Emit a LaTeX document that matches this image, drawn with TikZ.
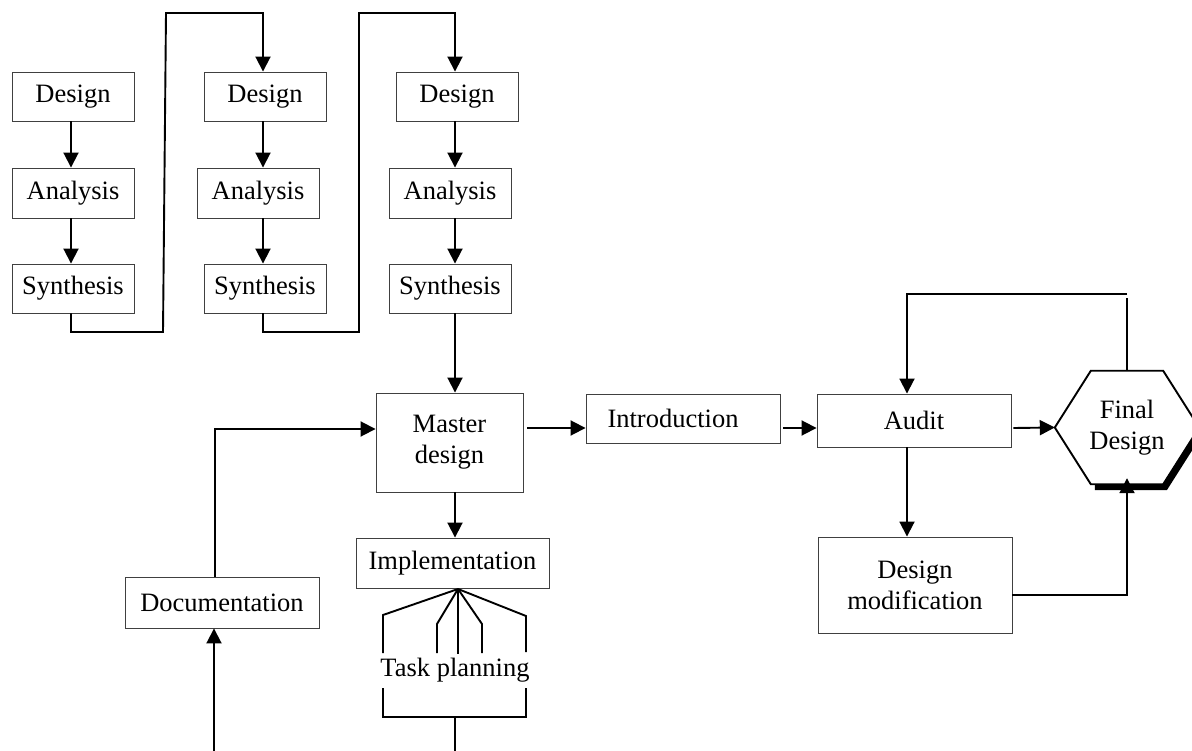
\documentclass[tikz,border=0pt]{standalone}
\usepackage{fontspec}
\setmainfont{Liberation Serif}
\usetikzlibrary{arrows.meta,calc}
\begin{document}
\begin{tikzpicture}[x=1pt,y=-1pt,
  txt/.style={font=\fontsize{26.5}{31}\selectfont, align=center},
  box/.style={txt, draw=black!75, line width=0.9pt, inner sep=0pt},
  link/.style={line width=1.9pt, line join=miter},
  arr/.style={link, -{Triangle[length=15pt,width=15pt]}},
]
\fill[white] (0,0) rectangle (1192,751);
\useasboundingbox (0,0) rectangle (1192,751);

% column guides for the vertical arrows
\coordinate (c1) at (71,0);
\coordinate (c2) at (263,0);
\coordinate (c3) at (455,0);

% three design iterations
\node[box, minimum width=122pt, minimum height=49pt] (d1) at (73,96.5) {Design};
\node[box, minimum width=122pt, minimum height=50pt] (a1) at (73,193) {Analysis};
\node[box, minimum width=122pt, minimum height=49pt] (s1) at (73,288.5) {Synthesis};

\node[box, minimum width=122pt, minimum height=49pt] (d2) at (265,96.5) {Design};
\node[box, minimum width=122pt, minimum height=50pt] (a2) at (258,193) {Analysis};
\node[box, minimum width=122pt, minimum height=49pt] (s2) at (265,288.5) {Synthesis};

\node[box, minimum width=122pt, minimum height=49pt] (d3) at (457,96.5) {Design};
\node[box, minimum width=122pt, minimum height=50pt] (a3) at (450,193) {Analysis};
\node[box, minimum width=122pt, minimum height=49pt] (s3) at (450,288.5) {Synthesis};

% main flow
\node[box, minimum width=147pt, minimum height=99pt] (m) at (449.5,442.5) {Master\\design};
\node[box, minimum width=194pt, minimum height=49pt] (i) at (683,418.5) {\makebox[0pt]{Introduction\hspace*{20pt}}};
\node[box, minimum width=194pt, minimum height=53pt] (au) at (914,420.5) {Audit};
\node[box, minimum width=194pt, minimum height=96pt] (dm) at (915,585) {Design\\modification};
\node[txt, minimum width=144pt, minimum height=113pt, inner sep=0pt] (fd) at (1127,427.5) {Final\\Design};
\node[box, minimum width=193pt, minimum height=50pt] (im) at (452.5,563) {Implementation};
\node[box, minimum width=194pt, minimum height=51pt] (doc) at (222,602.5) {Documentation};
\node[txt, inner sep=0pt] (tp) at (455,670) {Task planning};

% hexagon with its drop shadow
\draw[line width=6pt, line join=miter]
  ($(fd.east)+(2,3)$) -- ($(fd.south east)+(-34,3)$) -- ($(fd.south west)+(40,3)$);
\draw[line width=1.9pt, line join=miter]
  (fd.west) -- ($(fd.north west)+(36,0)$) -- ($(fd.north east)+(-36,0)$) -- (fd.east)
  -- ($(fd.south east)+(-36,0)$) -- ($(fd.south west)+(36,0)$) -- cycle;

% arrows inside each iteration
\draw[arr] (d1.south -| c1) -- (a1.north -| c1);
\draw[arr] (a1.south -| c1) -- (s1.north -| c1);
\draw[arr] (d2.south -| c2) -- (a2.north -| c2);
\draw[arr] (a2.south -| c2) -- (s2.north -| c2);
\draw[arr] (d3.south -| c3) -- (a3.north -| c3);
\draw[arr] (a3.south -| c3) -- (s3.north -| c3);

% hand-over from one iteration to the next
\coordinate (j1) at (163,332);
\coordinate (t1) at (166,13);
\coordinate (j2) at (359,332);
\coordinate (t2) at (359,13);
\draw[arr] (s1.south -| c1) |- (j1) -- (t1) -| (d2.north -| c2);
\draw[arr] (s2.south -| c2) |- (j2) -- (t2) -| (d3.north -| c3);
\draw[arr] (s3.south -| c3) -- (m.north -| c3);

% horizontal chain
\coordinate (r) at (0,428);
\draw[arr] ([xshift=4pt]m.east |- r) -- (i.west |- r);
\draw[arr] ([xshift=3pt]i.east |- r) -- (au.west |- r);
\draw[arr] ([xshift=2pt]au.east |- r) -- (fd.west);

% audit loop
\coordinate (top) at (0,294);
\draw[link] (fd.north) -- ([yshift=-4pt]fd.north |- top);
\draw[arr] (fd.north |- top) -| ([xshift=-7pt]au.north);
\draw[arr] ([xshift=-7pt]au.south) -- ([xshift=-7pt]au.south |- dm.north);
\coordinate (r2) at (0,595);
\draw[arr] (dm.east |- r2) -| ([yshift=6pt]fd.south);

% documentation feeding the master design
\coordinate (docin) at (214,751);
\draw[arr] (docin) -- (doc.south -| docin);
\coordinate (r3) at (0,429);
\draw[arr] ([xshift=-7pt]doc.north) |- (m.west |- r3);

% implementation and task planning
\draw[arr] (m.south -| c3) -- (im.north -| c3);
\coordinate (fan) at (458,589);
\coordinate (f1) at (383,615);
\coordinate (f2) at (437,624);
\coordinate (f4) at (482,624);
\coordinate (f5) at (526,616);
\draw[link] (fan) -- (f1) -- (f1 |- 0,653);
\draw[link] (fan) -- (f2) -- (f2 |- 0,653);
\draw[link] (fan) -- (fan |- 0,654);
\draw[link] (fan) -- (f4) -- (f4 |- 0,653);
\draw[link] (fan) -- (f5) -- (f5 |- 0,652);
\coordinate (b1) at (383,688);
\coordinate (b2) at (526,688);
\coordinate (bm) at (455,717);
\draw[link] (b1) |- (bm) -| (b2);
\draw[link] (bm) -- (bm |- 0,751);
\end{tikzpicture}
\end{document}
